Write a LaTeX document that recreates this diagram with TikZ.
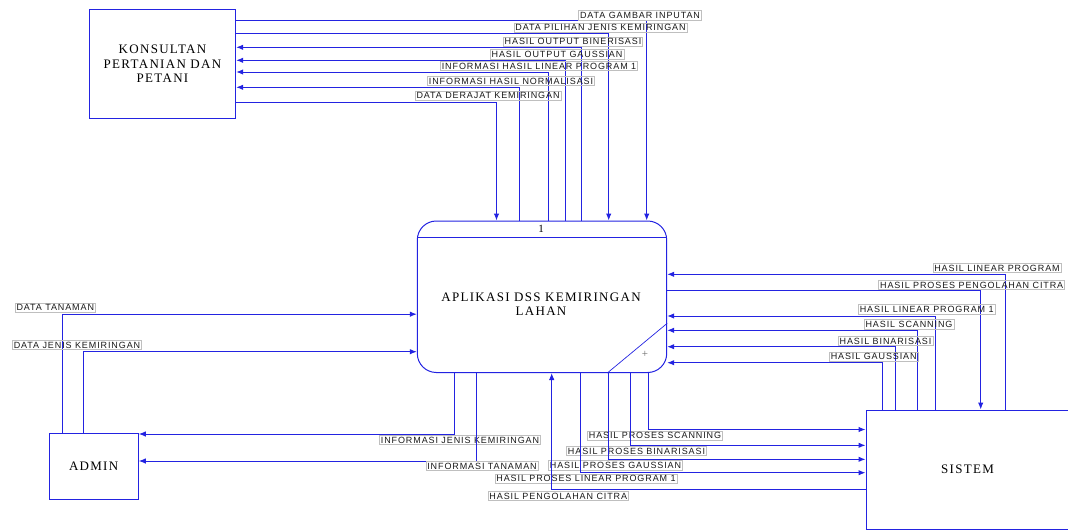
\documentclass[tikz,border=0pt]{standalone}
\usepackage{fontspec}
\setmainfont{Liberation Serif}[LetterSpace=10]
\newfontfamily\ketfont{Liberation Sans}[LetterSpace=10]
\usetikzlibrary{arrows.meta}
\definecolor{biru}{RGB}{35,35,225}
\begin{document}
\begin{tikzpicture}[x=1pt,y=-1pt,
  entitas/.style={draw=biru,line width=1pt,rectangle,inner sep=0pt,align=center,font=\fontsize{13}{14.5}\selectfont},
  proses/.style={draw=biru,line width=1pt,rectangle,rounded corners=19pt,inner sep=0pt},
  arus/.style={draw=biru,line width=1pt,-{Latex[length=7pt,width=5.5pt]}},
  garis/.style={draw=biru,line width=1pt},
  ket/.style={draw=black!25,line width=.6pt,inner sep=1.5pt,text height=6.3pt,text depth=0pt,
    font=\ketfont\fontsize{9}{10}\selectfont,text=black!90}]
  \useasboundingbox (0,0) rectangle (1068,530);
  % entitas luar
  \node[entitas,minimum width=146.4pt,minimum height=109pt] (kons) at (162.5,63.8) {KONSULTAN\\PERTANIAN DAN\\PETANI};
  \node[entitas,minimum width=89.3pt,minimum height=66pt] (admin) at (93.65,466.3) {ADMIN};
  \node[entitas,minimum width=203pt,minimum height=119.5pt] (sistem) at (967.5,469.75) {SISTEM};
  % proses
  \node[proses,minimum width=249.4pt,minimum height=151.5pt] (proc) at (542,296.75) {};
  \draw[garis] (proc.west |- 0,237.7) -- (proc.east |- 0,237.7);
  \node[font=\fontsize{11}{12}\selectfont] (nomor) at (541,228.5) {1};
  \node[align=center,font=\fontsize{13}{13.5}\selectfont] (judul) at (541,304) {APLIKASI DSS KEMIRINGAN\\LAHAN};
  \draw[garis,line width=.7pt] (proc.east |- 0,323.3) -- (proc.south -| 607.3,0);
  \node[text=black!60,font=\fontsize{11}{11}\selectfont] (plus) at (645,354.3) {+};
  % arus atas
  \draw[arus] (kons.east |- 0,20.7) -| (proc.north -| 646.7,0) node[ket] at (640,15.3) {DATA GAMBAR INPUTAN};
  \draw[arus] (kons.east |- 0,33.3) -| (proc.north -| 608.7,0) node[ket] at (600.5,27.7) {DATA PILIHAN JENIS KEMIRINGAN};
  \draw[arus] (proc.north -| 581.7,0) |- (kons.east |- 0,47.3) node[ket] at (573,41.7) {HASIL OUTPUT BINERISASI};
  \draw[arus] (proc.north -| 565.7,0) |- (kons.east |- 0,60.3) node[ket] at (557,54.3) {HASIL OUTPUT GAUSSIAN};
  \draw[arus] (proc.north -| 548.3,0) |- (kons.east |- 0,72) node[ket] at (539,66) {INFORMASI HASIL LINEAR PROGRAM 1};
  \draw[arus] (proc.north -| 519,0) |- (kons.east |- 0,87.3) node[ket] at (511,81) {INFORMASI HASIL NORMALISASI};
  \draw[arus] (kons.east |- 0,102.7) -| (proc.north -| 496.5,0) node[ket] at (488,95.7) {DATA DERAJAT KEMIRINGAN};
  % arus kanan
  \draw[arus] (sistem.north -| 1005.7,0) |- (proc.east |- 0,274.3) node[ket] at (997,268) {HASIL LINEAR PROGRAM};
  \draw[arus] (proc.east |- 0,290) -| (sistem.north -| 980.7,0) node[ket] at (971.7,285) {HASIL PROSES PENGOLAHAN CITRA};
  \draw[arus] (sistem.north -| 935,0) |- (proc.east |- 0,316) node[ket] at (926.7,309.3) {HASIL LINEAR PROGRAM 1};
  \draw[arus] (sistem.north -| 917,0) |- (proc.east |- 0,330.3) node[ket] at (909,324.3) {HASIL SCANNING};
  \draw[arus] (sistem.north -| 895.7,0) |- (proc.east |- 0,346.7) node[ket] at (885.5,341) {HASIL BINARISASI};
  \draw[arus] (sistem.north -| 882.7,0) |- (proc.east |- 0,362.7) node[ket] at (873.7,356.8) {HASIL GAUSSIAN};
  % arus bawah
  \draw[arus] (proc.south -| 454.3,0) |- (admin.east |- 0,434) node[ket] at (460,440) {INFORMASI JENIS KEMIRINGAN};
  \draw[arus] (proc.south -| 476,0) |- (admin.east |- 0,461) node[ket] at (482,466) {INFORMASI TANAMAN};
  \draw[arus] (proc.south -| 648.3,0) |- (sistem.west |- 0,429.5) node[ket] at (655,435.5) {HASIL PROSES SCANNING};
  \draw[arus] (proc.south -| 630.7,0) |- (sistem.west |- 0,445.3) node[ket] at (636.5,451) {HASIL PROSES BINARISASI};
  \draw[arus] (proc.south -| 608.3,0) |- (sistem.west |- 0,459.3) node[ket] at (615.5,465.3) {HASIL PROSES GAUSSIAN};
  \draw[arus] (proc.south -| 580.7,0) |- (sistem.west |- 0,472.7) node[ket] at (586,478.5) {HASIL PROSES LINEAR PROGRAM 1};
  \draw[arus] (sistem.west |- 0,489.5) -| (proc.south -| 551.7,0) node[ket] at (558.3,496) {HASIL PENGOLAHAN CITRA};
  % arus kiri
  \draw[arus] (admin.north -| 62.3,0) |- (proc.west |- 0,314.2) node[ket] at (55.3,307.8) {DATA TANAMAN};
  \draw[arus] (admin.north -| 83.3,0) |- (proc.west |- 0,351.7) node[ket] at (77,345) {DATA JENIS KEMIRINGAN};
\end{tikzpicture}
\end{document}
